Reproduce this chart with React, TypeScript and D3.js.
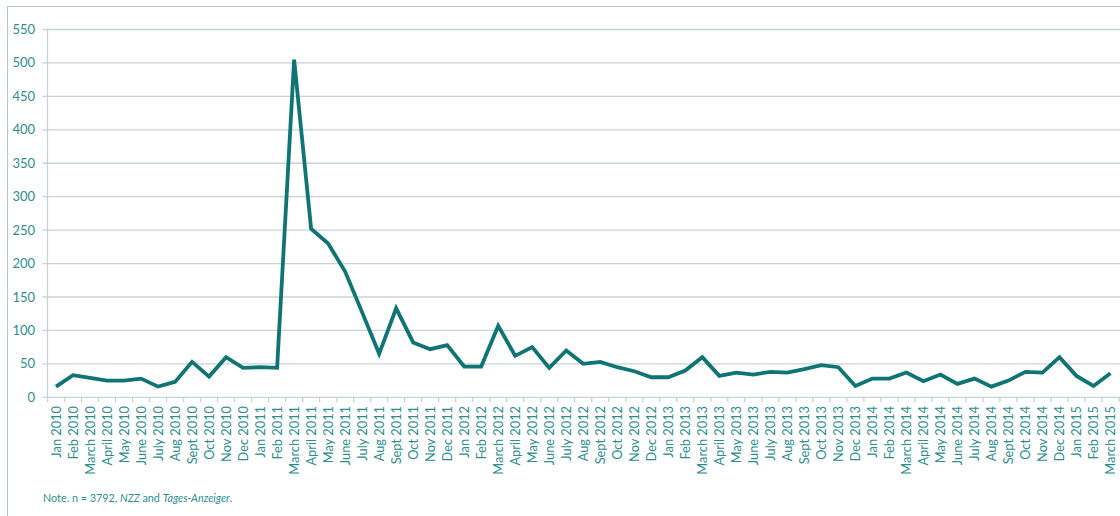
import React from "react";
import * as d3 from "d3";

const years = ["2010", "2011", "2012", "2013", "2014", "2015"];
const monthNames = ["Jan", "Feb", "March", "April", "May", "June", "July", "Aug", "Sept", "Oct", "Nov", "Dec"];
const categories: string[] = [];
years.forEach((y) => monthNames.forEach((m) => categories.push(`${m} ${y}`)));
categories.splice(63);

const values = [
  16, 33, 29, 25, 25, 28, 16, 23, 53, 31, 60, 44,
  45, 44, 505, 252, 230, 188, 127, 65, 133, 82, 72, 78,
  46, 46, 107, 62, 75, 44, 70, 50, 53, 45, 39, 30,
  30, 40, 60, 32, 37, 34, 38, 37, 42, 48, 45, 17,
  28, 28, 37, 24, 34, 20, 28, 16, 25, 38, 37, 60,
  32, 17, 36,
];

const yTicks = [0, 50, 100, 150, 200, 250, 300, 350, 400, 450, 500, 550];

const W = 1120;
const H = 516;
const left = 47.5;
const right = 1119;
const top = 29.5;
const bottom = 397.3;
const TEXT = "#2b8e8e";
const LINE = "#0f7474";
const GRID = "#c7d3d6";
const FONT = "Lato, 'Open Sans', sans-serif";

export default function App() {
  const x = d3.scaleBand<string>().domain(categories).range([left, right]);
  const y = d3.scaleLinear().domain([0, 550]).range([bottom, top]);
  const line = d3
    .line<number>()
    .x((_, i) => (x(categories[i]) as number) + x.bandwidth() / 2)
    .y((d) => y(d));

  const tickXs = d3.range(categories.length + 1).map((i) => left + i * x.step());

  return (
    <svg
      width={W}
      height={H}
      style={{ position: "absolute", left: 0, top: 0, background: "#fff" }}
    >
      <rect x={7.5} y={6.5} width={W + 20} height={H + 20} fill="#fff" stroke="#b9c5c9" strokeWidth={1} />
      {yTicks.map((t) => (
        <g key={t}>
          <line x1={left - 5} x2={right + 2} y1={y(t)} y2={y(t)} stroke={GRID} strokeWidth={1.3} />
          <text
            x={35}
            y={y(t)}
            dy="0.35em"
            textAnchor="end"
            fontFamily={FONT}
            fontSize={13}
            fill={TEXT}
          >
            {t}
          </text>
        </g>
      ))}
      <line x1={left} x2={left} y1={top} y2={bottom} stroke={GRID} strokeWidth={1.3} />
      {tickXs.map((tx, i) => (
        <line key={i} x1={tx} x2={tx} y1={bottom} y2={bottom + 5} stroke={GRID} strokeWidth={1.3} />
      ))}
      {categories.map((c) => {
        const cx = (x(c) as number) + x.bandwidth() / 2;
        return (
          <text
            key={c}
            transform={`translate(${cx + 4.5},${406}) rotate(-90)`}
            textAnchor="end"
            fontFamily={FONT}
            fontSize={12.8}
            fill={TEXT}
          >
            {c}
          </text>
        );
      })}
      <path d={line(values) || ""} fill="none" stroke={LINE} strokeWidth={3.8} strokeLinejoin="miter" />
      <text x={43} y={502} fontFamily={FONT} fontSize={10.8} fill={TEXT}>
        Note. n = 3792, <tspan fontStyle="italic">NZZ</tspan> and{" "}
        <tspan fontStyle="italic">Tages-Anzeiger</tspan>.
      </text>
    </svg>
  );
}
